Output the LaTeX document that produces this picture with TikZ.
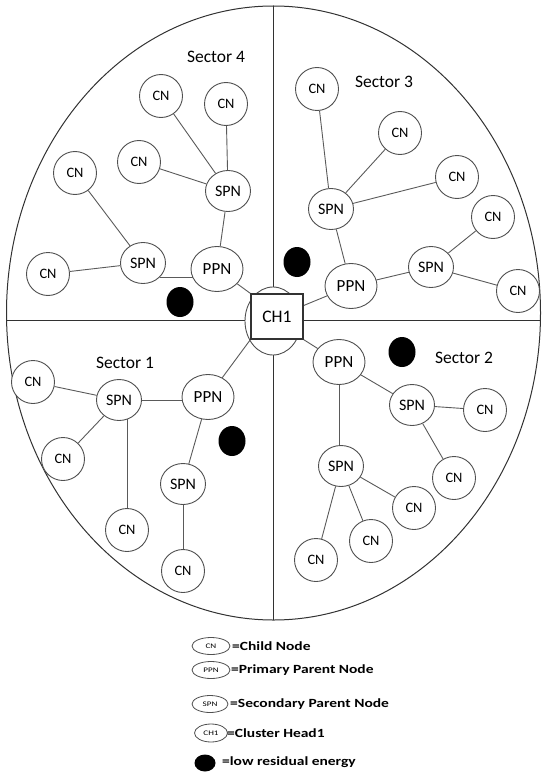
\documentclass[tikz,border=0pt]{standalone}
\usepackage{fontspec}
\setmainfont{Carlito}
\usetikzlibrary{shapes.geometric}
\pgfdeclarelayer{background}
\pgfsetlayers{background,main}
\definecolor{linegray}{RGB}{90,90,90}
\definecolor{nodegray}{RGB}{80,80,80}
\definecolor{framegray}{RGB}{50,50,50}
\begin{document}
\begin{tikzpicture}[x=1pt,y=-1pt,
  link/.style={draw=linegray, line width=0.9pt},
  nd/.style={ellipse, draw=nodegray, line width=0.9pt, fill=white, inner sep=0pt},
  cn/.style={nd, minimum width=43pt, minimum height=43pt, font=\fontsize{14.4}{16}\selectfont},
  spn/.style={nd, minimum width=45pt, minimum height=41pt, font=\fontsize{16}{18}\selectfont},
  ppn/.style={nd, minimum width=52pt, minimum height=45pt, font=\fontsize{17}{19}\selectfont},
  dot/.style={ellipse, fill=black, minimum width=27pt, minimum height=30pt, inner sep=0pt},
  sect/.style={font=\fontsize{17.5}{20}\selectfont},
  lgnode/.style={ellipse, draw=nodegray, line width=0.8pt, fill=white, inner sep=0pt, minimum width=38pt, minimum height=17pt, font=\fontsize{7}{8}\selectfont},
  lgtext/.style={anchor=west, inner sep=0pt, font=\bfseries\fontsize{12.5}{14}\selectfont},
  frame/.style={draw=framegray, line width=1.0pt},
]
\useasboundingbox (0,0) rectangle (542,773);
% field
\draw[frame] (273.5,313) ellipse [x radius=267, y radius=307];
\coordinate (fl) at (6.6,320);
\coordinate (fr) at (540.4,320);
\coordinate (ft) at (273,6);
\coordinate (fb) at (273,620);
\draw[frame] (fl) -- (fr);
\draw[frame] (ft) -- (fb);
% cluster head
\node[ellipse, draw=nodegray, line width=0.9pt, fill=white, minimum width=56pt, minimum height=68pt] (chc) at (273,321) {};
\node[draw=framegray, line width=1.1pt, fill=white, minimum width=52pt, minimum height=45pt, inner sep=0pt, font=\fontsize{17.6}{20}\selectfont] (ch1) at (277,316.5) {CH1};

% Sector 4
\node[sect] (l4) at (216,57) {Sector 4};
\node[cn] (c4a) at (161,96) {CN};
\node[cn] (c4b) at (226,104) {CN};
\node[cn] (c4c) at (139,162) {CN};
\node[cn] (c4d) at (75,173) {CN};
\node[cn] (c4e) at (48,274) {CN};
\node[spn] (s4a) at (228,191) {SPN};
\node[spn] (s4b) at (143,263) {SPN};
\node[ppn] (p4) at (217,269) {PPN};
\node[dot] (d4) at (180,302) {};

% Sector 3
\node[sect] (l3) at (384,82) {Sector 3};
\node[cn] (c3a) at (317,89) {CN};
\node[cn] (c3b) at (400,133) {CN};
\node[cn] (c3c) at (457,177) {CN};
\node[cn] (c3d) at (493,217) {CN};
\node[cn] (c3e) at (518,291) {CN};
\node[spn] (s3a) at (331,209) {SPN};
\node[spn] (s3b) at (431,267) {SPN};
\node[ppn] (p3) at (351,286) {PPN};
\node[dot] (d3) at (297,262) {};

% Sector 1
\node[sect] (l1) at (125,363) {Sector 1};
\node[cn] (c1a) at (33,382) {CN};
\node[cn] (c1b) at (63,459) {CN};
\node[cn] (c1c) at (127,530) {CN};
\node[cn] (c1d) at (183,571) {CN};
\node[spn] (s1a) at (119,400) {SPN};
\node[spn] (s1b) at (183,484) {SPN};
\node[ppn] (p1) at (208,397) {PPN};
\node[dot] (d1) at (232,441) {};

% Sector 2
\node[sect] (l2) at (464,358) {Sector 2};
\node[cn] (c2a) at (485,410) {CN};
\node[cn] (c2b) at (454,478) {CN};
\node[cn] (c2c) at (414,508) {CN};
\node[cn] (c2d) at (371,541) {CN};
\node[cn] (c2e) at (316,560) {CN};
\node[spn] (s2a) at (412,405) {SPN};
\node[spn] (s2b) at (341,466) {SPN};
\node[ppn] (p2) at (339,362) {PPN};
\node[dot] (d2) at (402,352) {};

\begin{pgfonlayer}{background}
  % sector 4
  \draw[link] (s4a) -- (c4a);
  \draw[link] (s4a) -- (c4b);
  \draw[link] (s4a) -- (c4c);
  \draw[link] (s4a) -- (p4);
  \draw[link] (s4b) -- (c4d);
  \draw[link] (s4b) -- (c4e);
  \draw[link] (s4b.-40) -- (s4b.-40 -| p4.center);
  \draw[link] (p4) -- (ch1.north west);
  % sector 3
  \draw[link] (s3a) -- (c3a);
  \draw[link] (s3a) -- (c3b);
  \draw[link] (s3a) -- (c3c);
  \draw[link] (s3a) -- (p3);
  \draw[link] (p3) -- (s3b);
  \draw[link] (s3b) -- (c3d);
  \draw[link] (s3b) -- (c3e);
  \draw[link] (p3) -- (ch1);
  % sector 1
  \draw[link] (s1a) -- (c1a);
  \draw[link] (s1a) -- (c1b);
  \draw[link] (c1c.center |- s1a.center) -- (c1c);
  \draw[link] (s1a.east) -- (s1a.east -| p1.center);
  \draw[link] (p1) -- (s1b);
  \draw[link] (s1b) -- (c1d);
  \draw[link] (p1) -- (ch1.south west);
  % sector 2
  \draw[link] (p2) -- (ch1.south east);
  \draw[link] (p2) -- (s2a);
  \draw[link] (s2a) -- (c2a);
  \draw[link] (s2a) -- (c2b);
  \draw[link] (p2.center) -- (p2.center |- s2b.center);
  \draw[link] (s2b) -- (c2c);
  \draw[link] (s2b) -- (c2d);
  \draw[link] (s2b) -- (c2e);
\end{pgfonlayer}

% legend
\node[lgnode] (lg1) at (211,646) {\scalebox{1.3}[1]{CN}};
\node[lgtext] (lt1) at (232,646) {\scalebox{1.24}[1]{=Child Node}};
\node[lgnode] (lg2) at (211,670) {\scalebox{1.3}[1]{PPN}};
\node[lgtext] (lt2) at (231,670) {\scalebox{1.24}[1]{=Primary Parent Node}};
\node[lgnode, minimum width=36pt] (lg3) at (210,704) {\scalebox{1.3}[1]{SPN}};
\node[lgtext] (lt3) at (230,704) {\scalebox{1.24}[1]{=Secondary Parent Node}};
\node[lgnode, minimum width=33pt, minimum height=18pt] (lg4) at (211,733) {\scalebox{1.3}[1]{CH1}};
\node[lgtext] (lt4) at (227,733) {\scalebox{1.24}[1]{=Cluster Head1}};
\node[ellipse, fill=black, minimum width=21pt, minimum height=17pt, inner sep=0pt] (lg5) at (205,763) {};
\node[lgtext] (lt5) at (222,762) {\scalebox{1.24}[1]{=low residual energy}};
\end{tikzpicture}
\end{document}
